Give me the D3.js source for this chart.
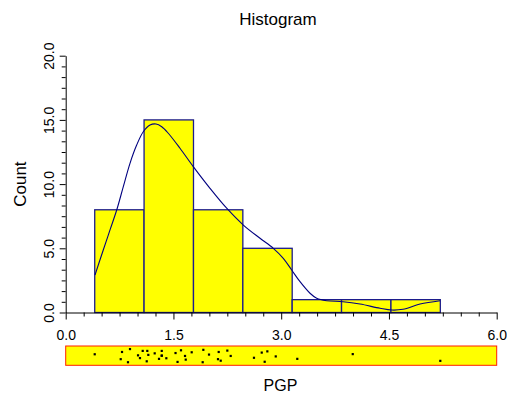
<!DOCTYPE html>
<html>
<head>
<meta charset="utf-8">
<script src="https://cdn.jsdelivr.net/npm/d3@7"></script>
<style>
  html, body { margin: 0; padding: 0; background: #fff; }
  svg { display: block; font-family: Arial, "Liberation Sans", sans-serif; }
</style>
</head>
<body>
<svg id="chart" width="507" height="396"></svg>
<script>
// ---- data ----
const binEdges = [0.404, 1.091, 1.779, 2.466, 3.153, 3.840, 4.528, 5.215];
const binCounts = [8, 15, 8, 5, 1, 1, 1];

// density curve (scaled to counts)
const curveX = [0.408, 0.523, 0.617, 0.710, 0.802, 0.895, 0.988, 1.080, 1.174, 1.257, 1.337, 1.428,
  1.591, 1.776, 2.009, 2.241, 2.473, 2.705, 2.890, 3.029, 3.146, 3.262, 3.401, 3.494, 3.634,
  3.861, 4.097, 4.376, 4.538, 4.696, 4.933, 5.212];
const curveY = [2.92, 4.87, 6.43, 7.98, 9.80, 11.62, 13.04, 14.08, 14.60, 14.68, 14.47, 13.96,
  12.79, 11.36, 9.67, 8.12, 6.81, 5.78, 5.00, 4.22, 3.31, 2.40, 1.50, 1.11, 0.92,
  0.84, 0.66, 0.33, 0.19, 0.25, 0.66, 0.92];

// raw PGP values (rug plot) and their vertical jitter (0 = top, 1 = bottom of strip)
const pgpValues = [0.404, 0.766, 0.784, 0.867, 0.895, 1.007, 1.034, 1.072,
  1.128, 1.136, 1.150, 1.239, 1.299, 1.337, 1.337, 1.337, 1.401, 1.529, 1.557, 1.605, 1.661, 1.671, 1.754,
  1.907, 1.916, 1.995, 2.120, 2.130, 2.158, 2.250, 2.297,
  2.621, 2.729, 2.770, 2.807, 2.924,
  3.224, 3.996, 5.215];
const pgpJitter = [0.41, 0.73, 0.26, 0.93, 0.07, 0.48, 0.66, 0.19,
  0.87, 0.19, 0.45, 0.35, 0.71, 0.19, 0.50, 0.50, 0.67, 0.33, 0.91, 0.15, 0.52, 0.76, 0.28,
  0.93, 0.12, 0.43, 0.73, 0.26, 0.83, 0.17, 0.52,
  0.64, 0.30, 0.90, 0.22, 0.55,
  0.71, 0.40, 0.84];

const xTicks = [0, 1.5, 3.0, 4.5, 6.0];
const yTicks = [0, 5, 10, 15, 20];
const titleText = "Histogram";
const xLabel = "PGP";
const yLabel = "Count";

// ---- drawing ----
const svg = d3.select("#chart");
const X0 = 65.7, X1 = 496.7, Y0 = 312.5, Y1 = 55.7;
const x = d3.scaleLinear().domain([0, 6]).range([X0, X1]);
const y = d3.scaleLinear().domain([0, 20]).range([Y0, Y1]);

const barStroke = "#1c1c8c";

// bars
const bins = binCounts.map((c, i) => ({ x0: binEdges[i], x1: binEdges[i + 1], c }));
svg.append("g").selectAll("rect").data(bins).join("rect")
  .attr("x", d => x(d.x0))
  .attr("y", d => y(d.c))
  .attr("width", d => x(d.x1) - x(d.x0))
  .attr("height", d => y(0) - y(d.c))
  .attr("fill", "#ffff00")
  .attr("stroke", barStroke)
  .attr("stroke-width", 1.3);

// density curve
const pts = curveX.map((v, i) => [v, curveY[i]]);
svg.append("path")
  .attr("d", d3.line().x(d => x(d[0])).y(d => y(d[1])).curve(d3.curveCatmullRom.alpha(0.5))(pts))
  .attr("fill", "none")
  .attr("stroke", "#000080")
  .attr("stroke-width", 1.1);

// y axis
const yMinor = [];
for (let i = 0; i < yTicks.length - 1; i++) {
  const a = yTicks[i], b = yTicks[i + 1];
  for (let k = 1; k < 6; k++) yMinor.push(a + (b - a) * k / 6);
}
const yAxis = svg.append("g").attr("transform", `translate(${X0},0)`);
yAxis.call(d3.axisLeft(y).tickValues(yMinor).tickSize(4).tickFormat(""));
yAxis.call(g => g.select(".domain").remove());
const yAxisMaj = svg.append("g").attr("transform", `translate(${X0},0)`);
yAxisMaj.call(d3.axisLeft(y).tickValues(yTicks).tickSize(6).tickSizeOuter(0).tickFormat(d3.format(".1f")));
yAxisMaj.selectAll("path, line").attr("stroke", "#000").attr("stroke-width", 1);
yAxis.selectAll("line").attr("stroke", "#000");
yAxisMaj.selectAll("text")
  .attr("font-size", 14)
  .attr("font-family", "Arial, 'Liberation Sans', sans-serif")
  .attr("fill", "#000")
  .attr("text-anchor", "middle")
  .attr("dy", null)
  .attr("x", null)
  .attr("transform", "translate(-12,0) rotate(-90)")
  .attr("y", 0);

// x axis
const xMinor = [];
for (let i = 0; i < xTicks.length - 1; i++) {
  const a = xTicks[i], b = xTicks[i + 1];
  for (let k = 1; k < 6; k++) xMinor.push(a + (b - a) * k / 6);
}
const xAxis = svg.append("g").attr("transform", `translate(0,${Y0})`);
xAxis.call(d3.axisBottom(x).tickValues(xMinor).tickSize(4).tickFormat(""));
xAxis.call(g => g.select(".domain").remove());
xAxis.selectAll("line").attr("stroke", "#000");
const xAxisMaj = svg.append("g").attr("transform", `translate(0,${Y0})`);
xAxisMaj.call(d3.axisBottom(x).tickValues(xTicks).tickSize(7).tickSizeOuter(0).tickFormat(d3.format(".1f")));
xAxisMaj.selectAll("path, line").attr("stroke", "#000").attr("stroke-width", 1);
xAxisMaj.selectAll("text")
  .attr("font-size", 14)
  .attr("font-family", "Arial, 'Liberation Sans', sans-serif")
  .attr("fill", "#000")
  .attr("dy", null)
  .attr("y", 27.5);

// rug strip
const RY0 = 346, RY1 = 365.3;
const jy = d3.scaleLinear().domain([0, 1]).range([RY0 + 2, RY1 - 2]);
svg.append("rect")
  .attr("x", X0).attr("y", RY0)
  .attr("width", X1 - X0).attr("height", RY1 - RY0)
  .attr("fill", "#ffff00")
  .attr("stroke", "#ff2000")
  .attr("stroke-width", 1);
svg.append("g").selectAll("rect").data(pgpValues.map((v, i) => [v, pgpJitter[i]])).join("rect")
  .attr("x", d => x(d[0]) - 1.1)
  .attr("y", d => jy(d[1]) - 1.1)
  .attr("width", 2.2).attr("height", 2.2)
  .attr("fill", "#000");

// titles
svg.append("text").attr("x", 278).attr("y", 25)
  .attr("text-anchor", "middle").attr("font-size", 17).attr("fill", "#000").text(titleText);
svg.append("text").attr("x", 280.5).attr("y", 390.5)
  .attr("text-anchor", "middle").attr("font-size", 16).attr("fill", "#000").text(xLabel);
svg.append("text").attr("transform", `translate(25.5,${(Y0 + Y1) / 2}) rotate(-90)`)
  .attr("text-anchor", "middle").attr("font-size", 17).attr("fill", "#000").text(yLabel);
</script>
</body>
</html>
